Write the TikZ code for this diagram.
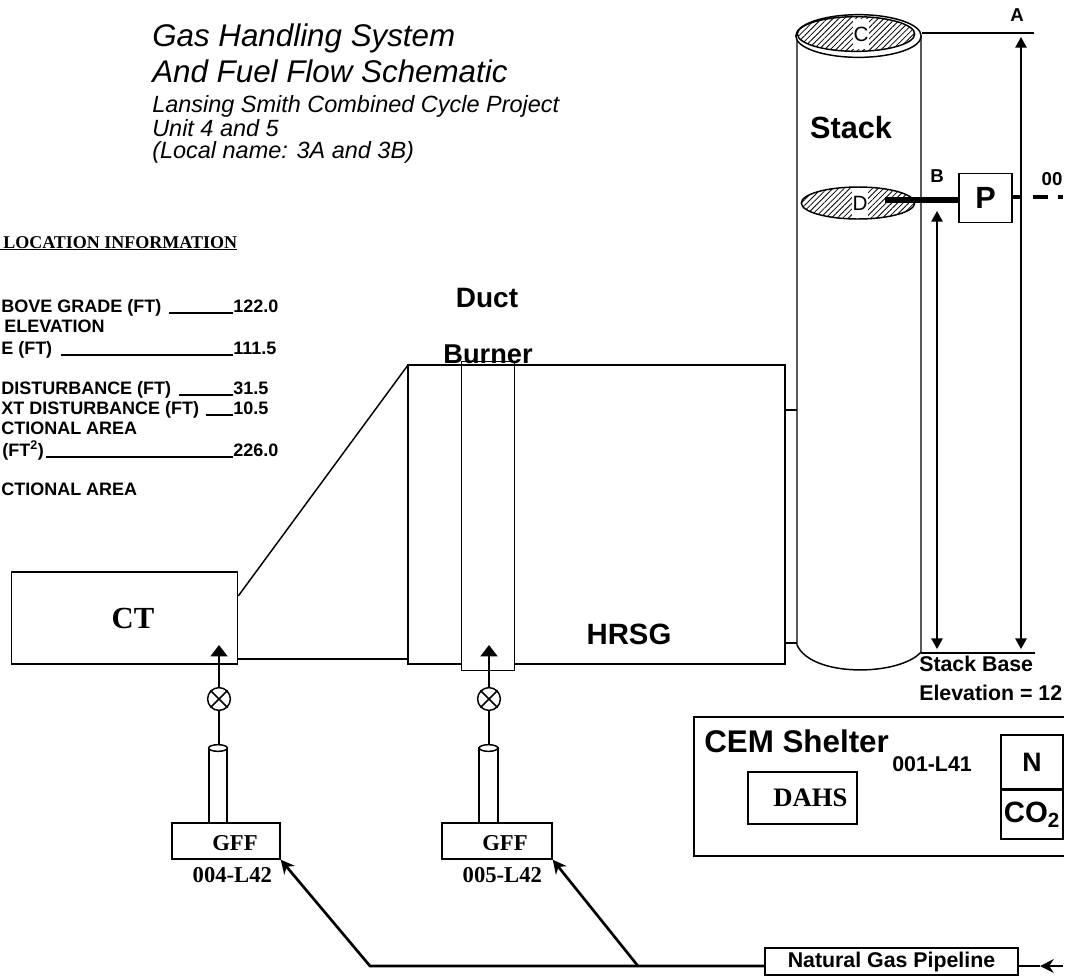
\documentclass[tikz,border=0pt]{standalone}
\usepackage{fontspec}
\setmainfont{Liberation Serif}
\setsansfont{Liberation Sans}
\usetikzlibrary{arrows.meta,positioning,calc,shapes.geometric,patterns.meta}
\tikzset{
  unit/.style={rectangle, draw, line width=1.1pt, inner sep=0pt, fill=white},
  hatched/.style={ellipse, draw, line width=1.1pt, inner sep=0pt, pattern={Lines[angle=45,distance=3pt,line width=0.6pt]}},
  rim/.style={ellipse, draw, line width=1.1pt, inner sep=0pt, fill=white},
  line/.style={line width=1.1pt},
  gasflow/.style={-{Stealth[length=3.6mm,width=3.6mm]}, line width=2pt},
  feed/.style={-{Triangle[length=3mm,width=4.5mm]}, line width=1.1pt},
  span/.style={{Triangle[length=2.8mm,width=3mm]}-{Triangle[length=2.8mm,width=3mm]}, line width=1.1pt},
  valve/.style={circle, draw, line width=1.1pt, inner sep=0pt, minimum size=6mm, fill=white},
  pipe/.style={rectangle, draw, line width=1.4pt, fill=white, minimum width=14pt, minimum height=56pt, inner sep=0pt},
  heading/.style={font=\sffamily\itshape\fontsize{23.5}{26}\selectfont, inner sep=0pt, anchor=base west},
  subheading/.style={font=\sffamily\itshape\fontsize{17.6}{20}\selectfont, inner sep=0pt, anchor=base west},
  label/.style={font=\sffamily\bfseries\fontsize{#1}{#1}\selectfont, inner sep=0pt},
  label/.default=16,
  port/.style={font=\sffamily\fontsize{15.5}{16}\selectfont, fill=white, inner sep=0pt, minimum width=12pt, minimum height=22pt},
  serif/.style={font=\rmfamily\bfseries\fontsize{#1}{#1}\selectfont, inner sep=0pt},
  row/.style={font=\sffamily\bfseries\fontsize{13.5}{14}\selectfont, inner sep=0pt, anchor=base west},
}
\begin{document}
\begin{tikzpicture}[x=0.75pt,y=-0.75pt]
  \useasboundingbox (0,0) rectangle (1070,976);
  % title
  \node[heading] (title1) at (152,46) {Gas Handling System};
  \node[heading] (title2) at (152,82) {And Fuel Flow Schematic};
  \node[subheading] (sub1) at (152,112) {Lansing Smith Combined Cycle Project};
  \node[subheading] (sub2) at (152,136) {Unit 4 and 5};
  \node[subheading] (sub3) at (152,158) {(Local name: 3A and 3B)};
  % location table
  \node[serif=13.5, anchor=base west] (locinfo) at (3,248) {LOCATION INFORMATION};
  \draw[line] (locinfo.south west) ++(-3,1) -- ($(locinfo.south east)+(0,1)$);
  \node[row] (r1) at (1,312) {BOVE GRADE (FT)};
  \node[row] (r2) at (4,332) {ELEVATION};
  \node[row] (r3) at (1,354) {E (FT)};
  \node[row] (r4) at (1,394) {DISTURBANCE (FT)};
  \node[row] (r5) at (1,414) {XT DISTURBANCE (FT)};
  \node[row] (r6) at (1,434) {CTIONAL AREA};
  \node[row] (r7) at (2,456) {(FT\textsuperscript{2})};
  \node[row] (r8) at (1,495) {CTIONAL AREA};
  \node[row] (v1) at (233,312) {122.0};
  \node[row] (v3) at (233,354) {111.5};
  \node[row] (v4) at (233,394) {31.5};
  \node[row] (v5) at (233,414) {10.5};
  \node[row] (v7) at (233,456) {226.0};
  \draw[line] ($(r1.base east)+(7,1)$) -- ($(v1.base west)+(0,1)$);
  \draw[line] ($(r3.base east)+(8,1)$) -- ($(v3.base west)+(0,1)$);
  \draw[line] ($(r4.base east)+(7,1)$) -- ($(v4.base west)+(0,1)$);
  \draw[line] ($(r5.base east)+(6,1)$) -- ($(v5.base west)+(0,1)$);
  \draw[line] ($(r7.base east)+(2,1)$) -- ($(v7.base west)+(0,1)$);
  % turbine and hrsg
  \node[unit, minimum width=169.5pt, minimum height=69pt, serif=23] (ct) at (124.5,618) {\hspace*{12.8pt}CT};
  \coordinate (inlettop) at (408,365);
  \coordinate (ductmid) at (408,659);
  \draw[line] (ct.east |- 0,596) -- (inlettop);
  \draw[line] (ct.east |- 0,659) -- (ductmid);
  \draw[line] (inlettop) -- (785,365) -- (785,664) -- (408,664) -- cycle;
  \node[unit, minimum width=40pt, minimum height=232pt] (burner) at (488,516) {};
  \draw[line] (408,365) -- (785,365);
  \node[label=21] (duct) at (487,298) {Duct};
  \node[label=20.4] (burnertxt) at (488,354) {Burner};
  \node[label=22] (hrsg) at (629,634) {HRSG};
  % stack
  \draw[line, fill=white] (797,36) -- (797,645) .. controls (812,678) and (900,676) .. (921,652) -- (921,36);
  \draw[line] (785,410) -- (797,410);
  \draw[line] (785,643) -- (797,643);
  \node[rim, minimum width=94pt, minimum height=32pt] (rimtop) at (858.5,36) {};
  \node[hatched, minimum width=88pt, minimum height=26pt] (portc) at (856,34) {};
  \node[port] (c) at (861,34) {C};
  \node[hatched, minimum width=85pt, minimum height=24pt] (portd) at (858,203) {};
  \node[port] (d) at (860,203) {D};
  \node[label=23] (stack) at (851,128) {Stack};
  % probe
  \node[unit, minimum width=39.5pt, minimum height=37pt, label=23] (probe) at (985.5,198) {P};
  \coordinate (probein) at (885,200);
  \coordinate (probeout) at (1063,197);
  \draw[line width=5pt] (probein) -- (probe.west |- probein);
  \draw[line width=2.6pt, dash pattern=on 5.25pt off 9.75pt on 11.25pt off 8pt on 3.5pt off 20pt] (probe.east |- probeout) -- (probeout);
  \node[label=14] (b) at (937,176) {B};
  \node[label=14] (ptold) at (1052,179) {00};
  % elevations
  \node[label=14] (a) at (1017,15) {A};
  \coordinate (atop) at (1034,33);
  \coordinate (abase) at (1035,653);
  \draw[line] (rimtop.east |- atop) -- (atop);
  \draw[line] (921,653) -- (abase);
  \coordinate (ahead) at (1021,37);
  \coordinate (bhead) at (937,211);
  \draw[span] (ahead) -- (1021,649);
  \draw[span] (bhead) -- (937,649);
  \node[label=16, anchor=base west] (base1) at (919,671) {Stack Base};
  \node[label=16, anchor=base west] (base2) at (919,700) {Elevation = 12};
  % gas fuel flow
  \node[valve] (v4l) at (219,699) {};
  \node[valve] (v5l) at (489,699) {};
  \foreach \nd in {v4l,v5l} {
    \draw[line] (\nd.north west) -- (\nd.south east);
    \draw[line] (\nd.north east) -- (\nd.south west);
    \draw[feed] (\nd.north) -- (\nd.center |- 0,645);
  }
  \node[unit, minimum width=81pt, minimum height=27pt] (gff4) at (226,841) {};
  \node[unit, minimum width=82.5pt, minimum height=27pt] (gff5) at (497,841) {};
  \node[serif=17] (gff4txt) at (235,843) {GFF};
  \node[serif=17] (gff5txt) at (505,843) {GFF};
  \node[serif=17, below=18pt of gff4txt.south, anchor=center, xshift=-2pt] (tag4) {004-L42};
  \node[serif=17, below=18pt of gff5txt.south, anchor=center, xshift=-2pt] (tag5) {005-L42};
  \node[pipe] (pipe4) at (218,785.5) {};
  \node[pipe] (pipe5) at (488.5,785.5) {};
  \node[rim, minimum width=14pt, minimum height=5pt] (cap4) at (218,748) {};
  \node[rim, minimum width=14pt, minimum height=5pt] (cap5) at (488.5,748) {};
  \draw[line] (v4l.south) -- (v4l.south |- cap4.north);
  \draw[line] (v5l.south) -- (v5l.south |- cap5.north);
  % pipeline
  \node[unit, minimum width=190pt, minimum height=20pt, label=16] (pipeline) at (891.5,961.5) {Natural Gas Pipeline};
  \coordinate (supply) at (1063,966);
  \coordinate (inflow) at (1040,966);
  \coordinate (bend) at (370,966);
  \coordinate (tee) at (638,966);
  \draw[line] (inflow) -- (pipeline.east |- inflow);
  \draw[gasflow] (supply) -- (inflow);
  \draw[gasflow] (pipeline.west |- bend) -- (bend) -- (gff4.south east);
  \draw[gasflow] (tee) -- (gff5.south east);
  % cem shelter
  \coordinate (sheltertop) at (1064,717);
  \coordinate (shelterbot) at (1064,856);
  \draw[line] (sheltertop) -- (694,717) -- (694,856) -- (shelterbot);
  \node[label=23.5, anchor=base west] (cem) at (704,752) {CEM Shelter};
  \node[label=16, anchor=base west] (tag1) at (892,771) {001-L41};
  \node[unit, minimum width=81.5pt, minimum height=39pt, serif=20] (dahs) at (802.5,798) {\hspace*{12pt}DAHS};
  \node[unit, minimum width=46.5pt, minimum height=40.5pt, label=20] (nox) at (1032,762) {N};
  \node[unit, minimum width=46.5pt, minimum height=36.5pt, below=0pt of nox, label=22] (co2) {CO\textsubscript{2}};
\end{tikzpicture}
\end{document}
